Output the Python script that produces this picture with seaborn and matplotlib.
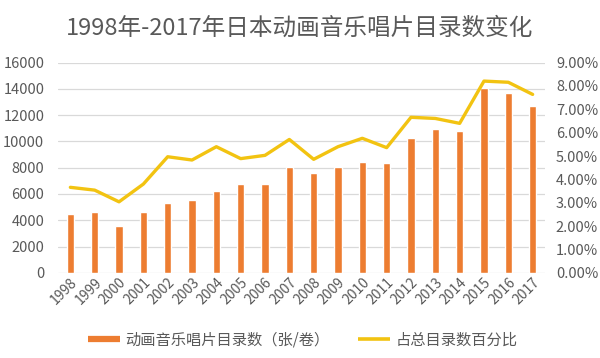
import numpy as np
import pandas as pd
import matplotlib
matplotlib.use("Agg")
import matplotlib.pyplot as plt
from matplotlib.lines import Line2D
import seaborn as sns

years = [str(y) for y in range(1998, 2018)]
counts = [4470, 4650, 3530, 4650, 5310, 5540, 6200, 6780, 6780, 8030,
          7570, 8030, 8460, 8380, 10240, 10950, 10820, 14100, 13710, 12720]
share_pct = [3.66, 3.54, 3.04, 3.80, 4.97, 4.83, 5.40, 4.89, 5.03, 5.71,
             4.86, 5.40, 5.76, 5.36, 6.66, 6.61, 6.40, 8.21, 8.16, 7.64]
left_ticks = [0, 2000, 4000, 6000, 8000, 10000, 12000, 14000, 16000]
right_ticks = [0, 1, 2, 3, 4, 5, 6, 7, 8, 9]
title = "1998年-2017年日本动画音乐唱片目录数变化"
bar_label = "动画音乐唱片目录数（张/卷）"
line_label = "占总目录数百分比"

sns.set_theme(style="white")
plt.rcParams['font.family'] = ['Noto Sans CJK SC', 'DejaVu Sans']

BAR = "#ED7D31"
LINE = "#F2C311"
TXT = "#595959"
GRID = "#D9D9D9"

df = pd.DataFrame({"year": years, "count": counts, "pct": share_pct})
df["pos"] = np.arange(len(df))

fig = plt.figure(figsize=(6.0, 3.58), dpi=100)
ax = fig.add_axes([0.097, 0.238, 0.811, 0.587])

sns.barplot(data=df, x="year", y="count", color=BAR, width=0.3, saturation=1,
            ax=ax, zorder=3)
ax.set_ylim(0, 16000)
ax.set_yticks(left_ticks)
ax.set_xlim(-0.5, len(years) - 0.5)
ax.grid(axis="y", color=GRID, linewidth=0.9, zorder=0)
ax.set_axisbelow(True)
ax.set_xlabel("")
ax.set_ylabel("")
for s in ax.spines.values():
    s.set_visible(False)
ax.tick_params(axis="y", length=0, pad=10, labelsize=10.5, labelcolor=TXT)
ax.tick_params(axis="x", length=0, pad=2, labelsize=10, labelcolor=TXT)
for lab in ax.get_xticklabels():
    lab.set_rotation(45)
    lab.set_ha("right")
    lab.set_rotation_mode("anchor")

ax2 = ax.twinx()
sns.lineplot(data=df, x="pos", y="pct", color=LINE, linewidth=2.4, ax=ax2,
             zorder=4)
ax2.set_ylim(0, 9)
ax2.set_yticks(right_ticks)
ax2.set_yticklabels([f"{v:.2f}%" for v in right_ticks])
ax2.set_xlim(-0.5, len(years) - 0.5)
ax2.set_xlabel("")
ax2.set_ylabel("")
for s in ax2.spines.values():
    s.set_visible(False)
ax2.tick_params(axis="y", length=0, pad=8, labelsize=10.5, labelcolor=TXT)
ax2.grid(False)

fig.text(0.5, 0.92, title, ha="center", va="center", fontsize=17, color=TXT)

handles = [Line2D([0], [0], color=BAR, linewidth=4.5, solid_capstyle="butt"),
           Line2D([0], [0], color=LINE, linewidth=2.6, solid_capstyle="butt")]
fig.legend(handles, [bar_label, line_label], loc="center",
           bbox_to_anchor=(0.504, 0.05), ncol=2, frameon=False,
           fontsize=11, labelcolor=TXT, handlelength=2.1, handletextpad=0.33,
           columnspacing=1.9)

fig.savefig("out.png", dpi=100, facecolor="white")
